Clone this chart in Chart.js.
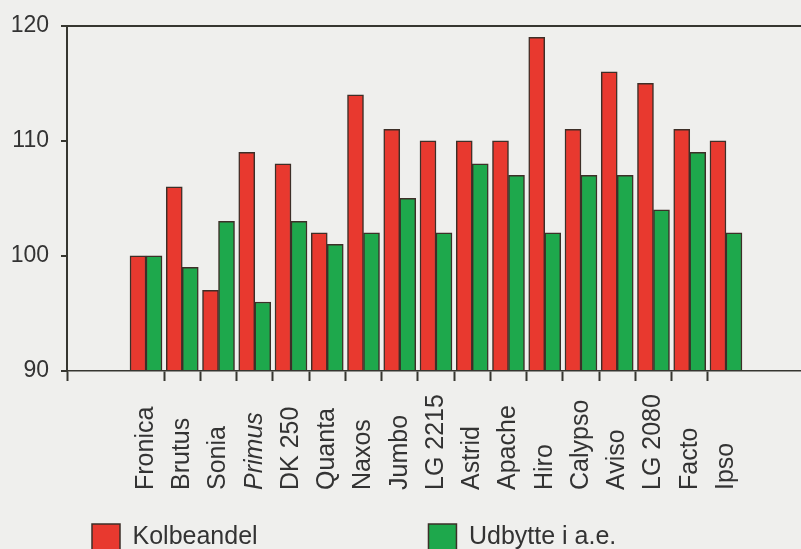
<!DOCTYPE html>
<html>
<head>
<meta charset="utf-8">
<title>Kolbeandel og udbytte</title>
<script src="https://cdn.jsdelivr.net/npm/chart.js@4.4.1/dist/chart.umd.min.js"></script>
<style>
  html, body { margin: 0; padding: 0; background: #efefed; }
  canvas { display: block; }
</style>
</head>
<body>
<canvas id="chart" width="801" height="549"></canvas>
<script>
// Sorter (varieties) along the x axis
const varieties = ['Fronica', 'Brutus', 'Sonia', 'Primus', 'DK 250', 'Quanta', 'Naxos', 'Jumbo',
  'LG 2215', 'Astrid', 'Apache', 'Hiro', 'Calypso', 'Aviso', 'LG 2080', 'Facto', 'Ipso'];
// Relative index values (Fronica = 100)
const kolbeandel = [100, 106, 97, 109, 108, 102, 114, 111, 110, 110, 110, 119, 111, 116, 115, 111, 110];
const udbytte = [100, 99, 103, 96, 103, 101, 102, 105, 102, 108, 107, 102, 107, 107, 104, 109, 102];
const seriesNames = ['Kolbeandel', 'Udbytte i a.e.'];
const yTicks = [90, 100, 110, 120];
const italicVarieties = ['Primus'];

const INK = '#363630';
const RED = '#e8392f';
const GREEN = '#1ea84c';
const EDGE = '#3d2f28';
const FONT = "'Liberation Sans', Arial, Helvetica, sans-serif";

// x range: a little empty room on both sides of the 17 groups
const X_MIN = -2.18;
const X_MAX = 18.07;
// tick marks sit between groups, labels sit on the group centres
const xTickValues = [X_MIN];
varieties.forEach((_, i) => {
  xTickValues.push(i);
  if (i < varieties.length - 1) xTickValues.push(i + 0.5);
});

// Rotated labels start from a common baseline below the axis
const labelAnchor = {
  id: 'labelAnchor',
  beforeDraw(chart) {
    const scale = chart.scales.x;
    scale.getLabelItems(chart.chartArea).forEach(item => {
      item.options.textAlign = 'left';
      item.options.translation[1] = scale.top + 119;
    });
  }
};

const toPoints = values => values.map((v, i) => ({ x: i, y: v }));

new Chart(document.getElementById('chart'), {
  type: 'bar',
  data: {
    datasets: [
      {
        label: seriesNames[0],
        data: toPoints(kolbeandel),
        backgroundColor: RED,
        borderColor: EDGE,
        borderWidth: 1.5
      },
      {
        label: seriesNames[1],
        data: toPoints(udbytte),
        backgroundColor: GREEN,
        borderColor: EDGE,
        borderWidth: 1.5
      }
    ]
  },
  options: {
    responsive: false,
    animation: false,
    devicePixelRatio: 1,
    base: 90,
    barThickness: 16,
    layout: { padding: { top: 23, left: 0, right: 0, bottom: -12 } },
    font: { family: FONT },
    scales: {
      x: {
        type: 'linear',
        min: X_MIN,
        max: X_MAX,
        offset: false,
        afterBuildTicks(scale) {
          scale.ticks = xTickValues.map(v => ({ value: v }));
        },
        afterFit(scale) { scale.height = 128; },
        border: { display: true, color: INK, width: 1.5 },
        grid: {
          offset: false,
          drawOnChartArea: false,
          drawTicks: true,
          tickLength: 10,
          tickWidth: 2,
          tickColor: ctx => (ctx.tick && Number.isInteger(ctx.tick.value)) ? 'rgba(0,0,0,0)' : INK
        },
        ticks: {
          autoSkip: false,
          minRotation: 90,
          maxRotation: 90,
          padding: 14,
          color: '#333',
          font: ctx => ({
            family: FONT,
            size: 25,
            style: (ctx.tick && Number.isInteger(ctx.tick.value) &&
              italicVarieties.includes(varieties[ctx.tick.value])) ? 'italic' : 'normal'
          }),
          callback: value => Number.isInteger(value) && value >= 0 ? varieties[value] : ''
        }
      },
      y: {
        min: yTicks[0],
        max: yTicks[yTicks.length - 1],
        afterBuildTicks(scale) {
          scale.ticks = yTicks.map(v => ({ value: v }));
        },
        afterFit(scale) { scale.width = 67; },
        border: { display: true, color: INK, width: 2 },
        grid: {
          color: ctx => (ctx.tick && ctx.tick.value === yTicks[yTicks.length - 1]) ? INK : 'rgba(0,0,0,0)',
          lineWidth: 2,
          drawTicks: true,
          tickLength: 6,
          tickWidth: 2,
          tickColor: INK
        },
        ticks: {
          padding: 12,
          color: '#333',
          font: { family: FONT, size: 23 }
        }
      }
    },
    plugins: {
      tooltip: { enabled: false },
      legend: {
        position: 'bottom',
        align: 'start',
        fullSize: false,
        labels: {
          boxWidth: 28,
          boxHeight: 27,
          padding: 25,
          color: '#333',
          font: { family: FONT, size: 25 },
          generateLabels(chart) {
            const items = Chart.defaults.plugins.legend.labels.generateLabels(chart);
            // widen the first entry so the second one sits further right
            items[0].text = items[0].text + ' '.repeat(21);
            return items;
          }
        }
      }
    }
  },
  plugins: [labelAnchor]
});
</script>
</body>
</html>
